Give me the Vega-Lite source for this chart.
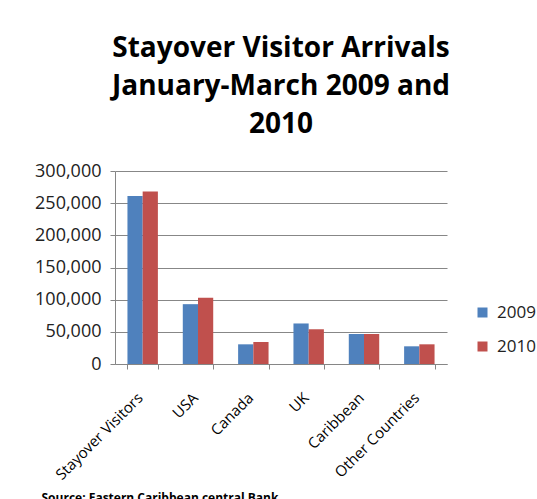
{
  "$schema": "https://vega.github.io/schema/vega-lite/v6.json",
  "width": 332,
  "height": 193,
  "autosize": {"type": "none"},
  "padding": {"left": 115, "top": 171, "right": 90, "bottom": 135},
  "background": "white",
  "title": {
    "text": ["Stayover Visitor Arrivals", "January-March 2009 and", "2010"],
    "font": "Open Sans",
    "fontSize": 28,
    "fontWeight": "bold",
    "color": "black",
    "lineHeight": 38,
    "anchor": "middle",
    "offset": 23
  },
  "data": {
    "values": [
      {"region": "Stayover Visitors", "year": "2009", "visitors": 261000},
      {"region": "Stayover Visitors", "year": "2010", "visitors": 268000},
      {"region": "USA", "year": "2009", "visitors": 93000},
      {"region": "USA", "year": "2010", "visitors": 103000},
      {"region": "Canada", "year": "2009", "visitors": 30600},
      {"region": "Canada", "year": "2010", "visitors": 34200},
      {"region": "UK", "year": "2009", "visitors": 63000},
      {"region": "UK", "year": "2010", "visitors": 54000},
      {"region": "Caribbean", "year": "2009", "visitors": 46600},
      {"region": "Caribbean", "year": "2010", "visitors": 46600},
      {"region": "Other Countries", "year": "2009", "visitors": 27500},
      {"region": "Other Countries", "year": "2010", "visitors": 30600}
    ]
  },
  "mark": {"type": "bar"},
  "encoding": {
    "x": {
      "field": "region",
      "type": "nominal",
      "sort": ["Stayover Visitors", "USA", "Canada", "UK", "Caribbean", "Other Countries"],
      "scale": {"paddingInner": 0.45, "paddingOuter": 0.225},
      "axis": {
        "labelAngle": -45,
        "labelAlign": "right",
        "labelBaseline": "middle",
        "labelFont": "Open Sans",
        "labelFontSize": 15,
        "labelColor": "black",
        "labelPadding": 26,
        "labelOffset": -3,
        "tickBand": "extent",
        "tickSize": 5,
        "tickColor": "#868686",
        "domainColor": "#868686",
        "title": "Source: Eastern Caribbean central Bank",
        "titleFont": "Open Sans",
        "titleFontSize": 12,
        "titleFontWeight": "bold",
        "titleColor": "black",
        "titleAnchor": "start",
        "titleAlign": "left",
        "titleBaseline": "alphabetic",
        "titleX": -74,
        "titleY": 137
      }
    },
    "xOffset": {"field": "year", "type": "nominal"},
    "y": {
      "field": "visitors",
      "type": "quantitative",
      "scale": {"domain": [0, 300000]},
      "axis": {
        "values": [0, 50000, 100000, 150000, 200000, 250000, 300000],
        "format": ",.0f",
        "title": null,
        "grid": true,
        "gridColor": "#878787",
        "domainColor": "#868686",
        "tickColor": "#868686",
        "tickSize": 5,
        "labelPadding": 9,
        "labelFont": "Open Sans",
        "labelFontSize": 18,
        "labelColor": "#222222"
      }
    },
    "color": {
      "field": "year",
      "type": "nominal",
      "scale": {"range": ["#4F81BD", "#C0504D"]},
      "legend": {
        "title": null,
        "orient": "none",
        "legendX": 359,
        "legendY": 133,
        "symbolType": "square",
        "symbolSize": 100,
        "symbolStrokeWidth": 0,
        "labelFont": "Open Sans",
        "labelFontSize": 17,
        "labelColor": "#222222",
        "rowPadding": 16,
        "labelOffset": 6
      }
    }
  },
  "config": {"view": {"stroke": null}}
}
